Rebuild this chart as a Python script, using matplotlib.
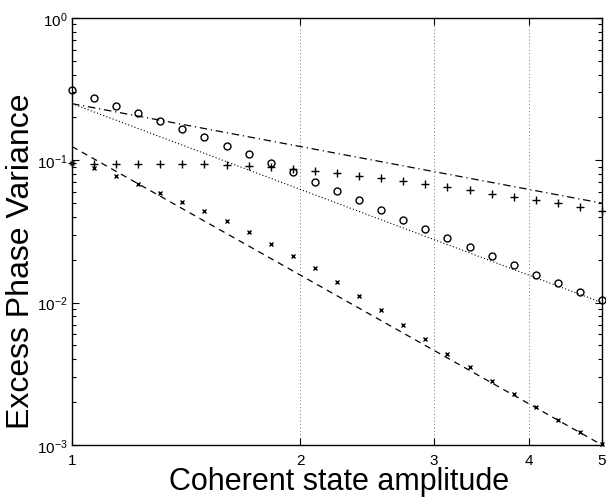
#!/usr/bin/env python3
"""Excess phase variance vs coherent state amplitude (log-log)."""

import matplotlib

matplotlib.use("Agg")
import matplotlib.pyplot as plt
from matplotlib.ticker import FixedLocator, NullFormatter

plt.rcParams["font.family"] = ["Liberation Sans", "DejaVu Sans"]

# amplitudes of the simulated points
amplitude = [1.000, 1.069, 1.144, 1.223, 1.308, 1.398, 1.495, 1.599, 1.710,
             1.829, 1.955, 2.091, 2.236, 2.391, 2.557, 2.734, 2.924, 3.127,
             3.344, 3.576, 3.824, 4.089, 4.372, 4.676, 5.000]

circle_var = [0.312, 0.274, 0.242, 0.214, 0.188, 0.165, 0.145, 0.127, 0.110,
              0.0958, 0.0824, 0.0708, 0.0609, 0.0526, 0.0445, 0.0383, 0.0329,
              0.0283, 0.0245, 0.0211, 0.0183, 0.0157, 0.0137, 0.0119, 0.0104]

plus_var = [0.096, 0.0947, 0.0942, 0.0942, 0.0942, 0.0942, 0.0942, 0.0931,
            0.0907, 0.0893, 0.0869, 0.0837, 0.0810, 0.0780, 0.0747, 0.0712,
            0.0682, 0.0645, 0.0615, 0.0582, 0.0552, 0.0526, 0.0499, 0.0470,
            0.0442]

cross_var = [0.095, 0.0883, 0.0776, 0.0678, 0.0586, 0.0509, 0.0438, 0.0373,
             0.0313, 0.0259, 0.0214, 0.0174, 0.0140, 0.0111, 0.00883, 0.0070,
             0.00555, 0.00438, 0.00353, 0.00282, 0.00229, 0.00186, 0.00150,
             0.00123, 0.00102]

# reference lines (straight in log-log), end points
line_x = [1.0, 5.0]
dashdot_y = [0.25, 0.05]
dotted_y = [0.25, 0.01]
dashed_y = [0.125, 0.001]

x_ticks = [1, 2, 3, 4, 5]
grid_x = [2, 3, 4]


def main() -> None:
    fig = plt.figure(figsize=(6.06, 5.02), dpi=100)
    ax = fig.add_axes([0.1188, 0.1116, 0.8746, 0.8506])

    for gx in grid_x:
        ax.axvline(gx, color="0.45", linestyle=(0, (1, 2.5)), linewidth=0.7, zorder=0)

    ax.plot(line_x, dashdot_y, color="black", linestyle=(0, (6, 3, 1, 3)), linewidth=0.9)
    ax.plot(line_x, dotted_y, color="black", linestyle=(0, (1, 2)), linewidth=0.8)
    ax.plot(line_x, dashed_y, color="black", linestyle=(0, (5, 4)), linewidth=0.9)

    ax.plot(amplitude, circle_var, linestyle="none", marker="o", markersize=5,
            markerfacecolor="none", markeredgecolor="black", markeredgewidth=1.0,
            clip_on=False)
    ax.plot(amplitude, plus_var, linestyle="none", marker="+", markersize=6,
            color="black", markeredgewidth=1.0, clip_on=False)
    ax.plot(amplitude, cross_var, linestyle="none", marker="x", markersize=3.5,
            color="black", markeredgewidth=1.0, clip_on=False)

    ax.set_xscale("log")
    ax.set_yscale("log")
    ax.set_xlim(1, 5)
    ax.set_ylim(1e-3, 1e0)

    ax.xaxis.set_major_locator(FixedLocator(x_ticks))
    ax.set_xticklabels([str(t) for t in x_ticks])
    ax.xaxis.set_minor_locator(FixedLocator([]))
    ax.xaxis.set_minor_formatter(NullFormatter())

    ax.tick_params(which="both", direction="in", top=True, right=True,
                   labelsize=11, width=0.8)
    ax.tick_params(which="major", length=5)
    ax.tick_params(axis="x", which="major", pad=6)
    ax.tick_params(axis="y", which="major", pad=3)
    ax.tick_params(which="minor", length=3)

    for spine in ax.spines.values():
        spine.set_linewidth(1.0)

    # axis labels placed in figure coordinates to match the original layout
    fig.text(339 / 606, 1 - 490 / 502, "Coherent state amplitude",
             fontsize=22, ha="center", va="baseline")
    fig.text(21 / 606, 1 - 261 / 502, "Excess Phase Variance",
             fontsize=23, ha="center", va="center", rotation=90)

    fig.savefig("out.png", dpi=100)
    plt.close(fig)


if __name__ == "__main__":
    main()
